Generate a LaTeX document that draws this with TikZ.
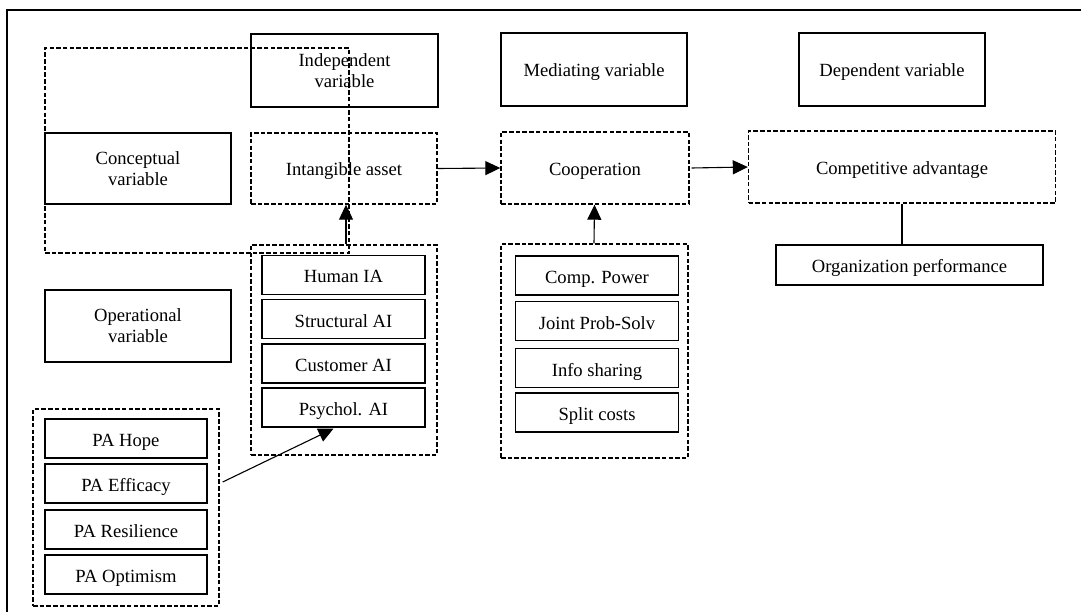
\documentclass[tikz,border=0pt]{standalone}
\usepackage{fontspec}
\setmainfont{Liberation Serif}
\usetikzlibrary{arrows.meta,calc}

\tikzset{
  box/.style={draw, line width=1.2pt, align=center, inner sep=0pt,
    font=\fontsize{18.6}{21}\selectfont, text depth=0pt},
  one/.style={box, text height=15pt},
  dbox/.style={one, line width=1.4pt, dash pattern=on 4.5pt off 2.2pt},
  item/.style={one, minimum width=163, minimum height=39, text height=16pt},
  grp/.style={draw, line width=1.4pt, dash pattern=on 4.5pt off 2.2pt, inner sep=0pt},
  link/.style={line width=1.1pt, -{Triangle[length=15pt,width=14pt]}},
  frame/.style={line width=2pt}
}

\begin{document}
\begin{tikzpicture}[x=1pt,y=-1pt]
\useasboundingbox (0,0) rectangle (1081,612);

% outer frame (top and left edges)
\coordinate (ftl) at (7,10);
\coordinate (ftr) at (1081,10);
\coordinate (fbl) at (7,612);
\draw[frame] (ftr) -- (ftl) -- (fbl);

% column headers
\node[box, minimum width=187, minimum height=73] (indep) at (344.5,70.5) {Independent\\variable};
\node[one, minimum width=186, minimum height=73] (mediat) at (594,69.5) {Mediating variable};
\node[one, minimum width=186, minimum height=73] (depend) at (892,69.5) {Dependent variable};

% conceptual level
\node[grp, minimum width=304, minimum height=205] (concgrp) at (197,150.5) {};
\node[box, minimum width=186, minimum height=71] (concvar) at (138,168.5) {Conceptual\\variable};
\node[dbox, minimum width=186, minimum height=71] (intang) at (344,168.5) {Intangible asset};
\node[dbox, minimum width=188, minimum height=72] (coop) at (595,168) {Cooperation};
\node[dbox, minimum width=307, minimum height=72] (compadv) at (902,167) {Competitive advantage};
\node[one, minimum width=267, minimum height=40] (orgperf) at (909.5,265) {Organization performance};

% operational level
\node[box, minimum width=186, minimum height=72] (opvar) at (138,326) {Operational\\variable};

% intangible asset indicators
\node[grp, minimum width=186, minimum height=210] (iagrp) at (344,350) {};
\node[item] (human) at (343.5,275) {Human IA};
\node[item] (struct) at (343.5,319) {Structural AI};
\node[item] (cust) at (343.5,363.5) {Customer AI};
\node[item] (psych) at (343.5,407.5) {Psychol. AI};

% cooperation indicators
\node[grp, minimum width=187, minimum height=214] (coopgrp) at (594.5,351) {};
\node[item] (power) at (597,275.5) {Comp. Power};
\node[item] (joint) at (597,321) {Joint Prob-Solv};
\node[item] (info) at (597,368) {Info sharing};
\node[item] (split) at (597,412.5) {Split costs};

% psychological asset indicators
\node[grp, minimum width=186, minimum height=197] (pagrp) at (126,507.5) {};
\node[item, minimum width=162] (hope) at (126,438.5) {PA Hope};
\node[item, minimum width=162] (effic) at (126,483.5) {PA Efficacy};
\node[item, minimum width=162] (resil) at (126,529.5) {PA Resilience};
\node[item, minimum width=162] (optim) at (126,574.5) {PA Optimism};

% connectors
\draw[link] ($(iagrp.north)+(2,0)$) -- ($(intang.south)+(2,0)$);
\draw[link] (intang.east) -- (coop.west);
\draw[link] ($(coop.east)+(2,0)$) -- (compadv.west);
\draw[link] ($(coopgrp.north)+(-0.5,0)$) -- ($(coop.south)+(-0.5,0)$);
\draw[line width=1.1pt] (compadv.south) -- (compadv.south |- orgperf.north);
\draw[link] ($(pagrp.east |- effic.east)+(3,-1.5)$) -- ($(psych.south)+(-10,1)$);
\end{tikzpicture}
\end{document}
